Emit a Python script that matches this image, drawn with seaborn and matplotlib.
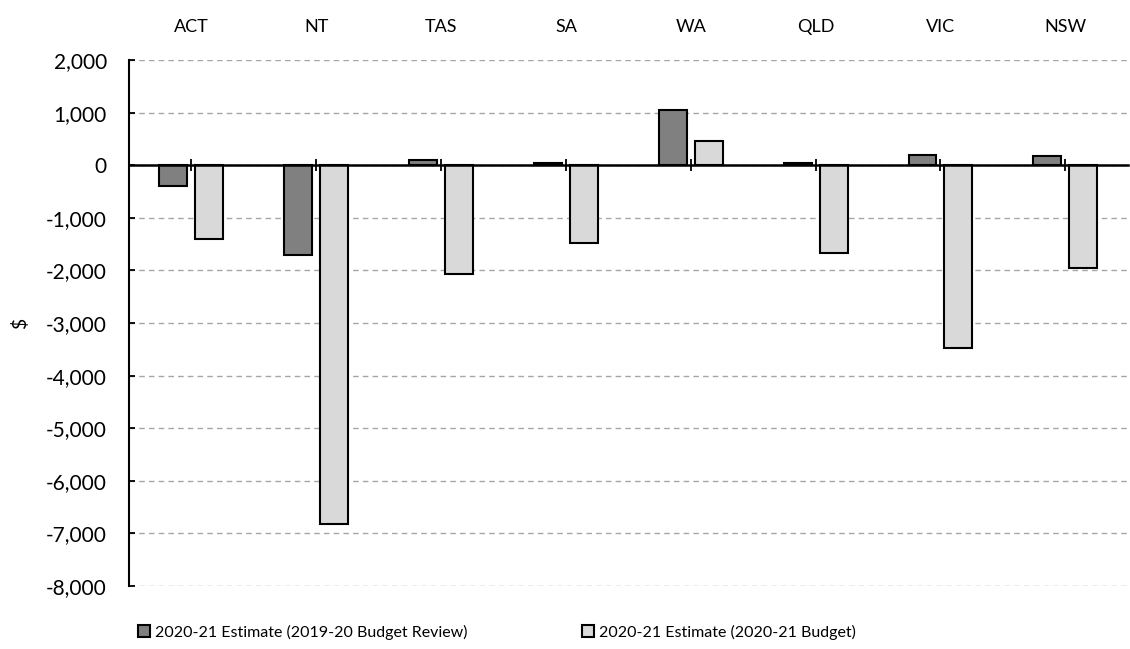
import matplotlib
matplotlib.use("Agg")
import matplotlib.pyplot as plt
import matplotlib.ticker as mticker
import seaborn as sns
import pandas as pd

categories = ["ACT", "NT", "TAS", "SA", "WA", "QLD", "VIC", "NSW"]
series_names = ["2020-21 Estimate (2019-20 Budget Review)", "2020-21 Estimate (2020-21 Budget)"]
review_values = [-400, -1710, 90, 45, 1040, 45, 185, 175]
budget_values = [-1400, -6830, -2070, -1470, 460, -1670, -3480, -1960]
y_ticks = list(range(-8000, 2001, 1000))

df = pd.DataFrame({
    "state": categories * 2,
    "series": [series_names[0]] * len(categories) + [series_names[1]] * len(categories),
    "value": review_values + budget_values,
})

sns.set_theme(style="white")
plt.rcParams["font.family"] = ["Lato", "DejaVu Sans"]
plt.rcParams["text.color"] = "black"
plt.rcParams["axes.labelcolor"] = "black"
plt.rcParams["xtick.color"] = "black"
plt.rcParams["ytick.color"] = "black"

fig = plt.figure(figsize=(11.3, 6.49), dpi=100)
ax = fig.add_axes([129 / 1130, 1 - 586 / 649, 1 - 129 / 1130 - 0.002, (586 - 60) / 649])

sns.barplot(data=df, x="state", y="value", hue="series", order=categories,
            hue_order=series_names, palette=["#808080", "#d9d9d9"],
            width=0.576, gap=0.222, edgecolor="black", linewidth=1.5,
            errorbar=None, ax=ax, zorder=3)

ax.set_ylim(-8000, 2000)
ax.set_xlim(-0.5, len(categories) - 0.5)
ax.set_yticks(y_ticks)
ax.yaxis.set_major_formatter(mticker.FuncFormatter(lambda v, p: f"{int(v):,}"))
ax.yaxis.grid(True, linestyle=(0, (4, 3)), color="#a6a6a6", linewidth=1.0, zorder=0)
ax.xaxis.grid(False)
ax.set_axisbelow(True)

for s in ["top", "right"]:
    ax.spines[s].set_visible(False)
ax.spines["left"].set_color("black")
ax.spines["left"].set_linewidth(1.5)
ax.spines["bottom"].set_position(("data", 0))
ax.spines["bottom"].set_color("black")
ax.spines["bottom"].set_linewidth(1.8)
ax.spines["bottom"].set_zorder(4)

ax.tick_params(axis="x", direction="inout", length=8, width=1.3, color="black",
               bottom=True, top=False, labelbottom=False, labeltop=True,
               labelsize=13, pad=14)
ax.tick_params(axis="y", direction="in", length=4, width=1.3, color="black",
               left=True, labelsize=15, pad=16)

ax.set_xlabel("")
ax.set_ylabel("$", fontsize=14, labelpad=12)

handles, labels = ax.get_legend_handles_labels()
ax.legend_.remove()
fig.legend(handles, labels, loc="center left", bbox_to_anchor=(138 / 1130, 1 - 632 / 649),
           ncol=2, frameon=False, fontsize=11.5, handlelength=0.75, handleheight=0.75,
           handletextpad=0.3, columnspacing=7.2, borderpad=0, borderaxespad=0)

fig.savefig("out.png", dpi=100)
